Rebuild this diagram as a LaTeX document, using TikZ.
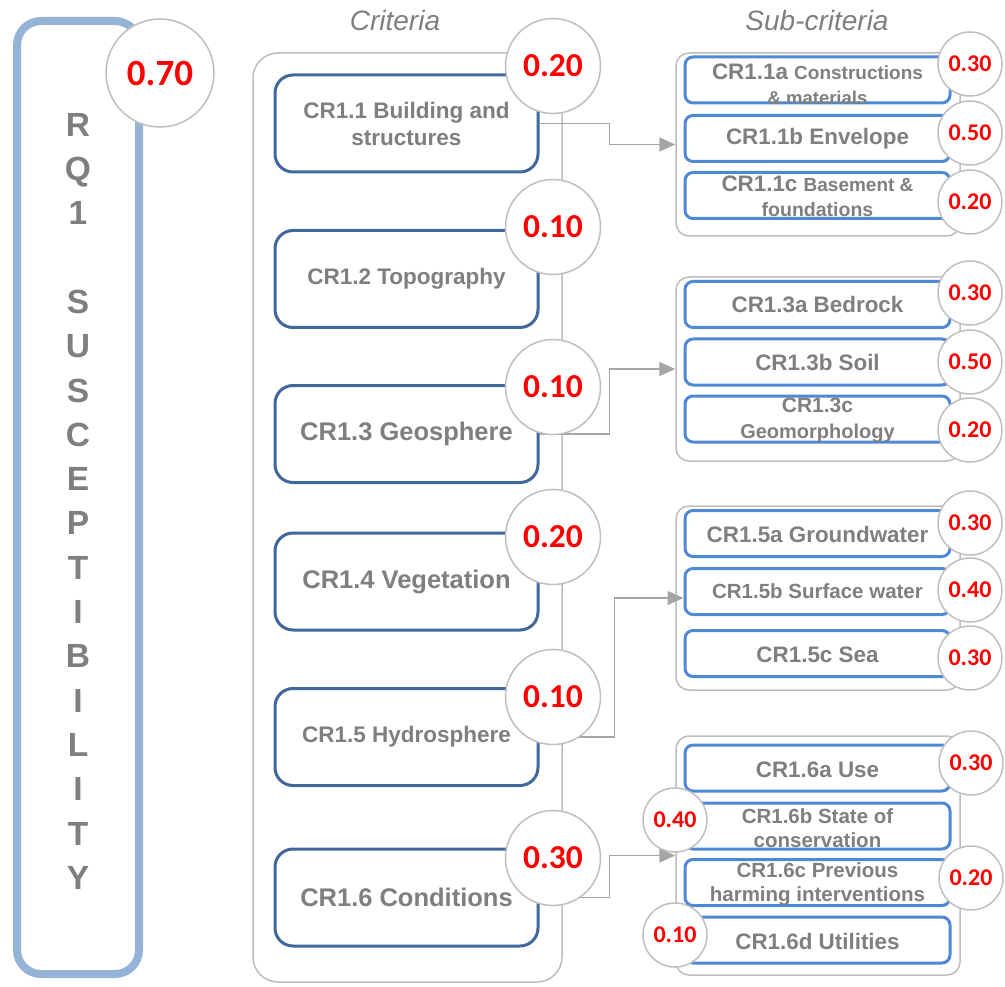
\documentclass[tikz,border=0pt]{standalone}
\usepackage{fontspec}
\setmainfont{Liberation Sans}
\newfontfamily\numfont{Carlito}
\usetikzlibrary{arrows.meta}

\definecolor{rqblue}{HTML}{95B3D7}
\definecolor{critblue}{HTML}{41689C}
\definecolor{subblue}{HTML}{4F88D6}
\definecolor{framegray}{HTML}{BDBDBD}
\definecolor{conngray}{HTML}{A5A5A5}
\definecolor{circgray}{HTML}{BFBFBF}
\definecolor{txtgray}{HTML}{7F7F7F}
\definecolor{wred}{HTML}{FF0000}

\newcommand\fsz[2]{\fontsize{#1}{#2}\selectfont}

\tikzset{
  rqbox/.style={draw=rqblue, line width=8pt, rounded corners=24pt, fill=white,
    minimum width=122pt, minimum height=953pt, inner sep=0pt},
  rqtext/.style={text=txtgray, font=\bfseries\fsz{33.5}{44.3}, align=center, inner sep=0pt},
  head/.style={text=txtgray, font=\itshape\fsz{28}{30}, inner sep=0pt},
  outerbox/.style={draw=framegray, line width=1.5pt, rounded corners=25pt},
  critbox/.style={draw=critblue, line width=3pt, rounded corners=18pt, fill=white,
    minimum width=263pt, minimum height=97pt, inner sep=0pt,
    text=txtgray, align=center, font=\bfseries\fsz{22.5}{27}},
  bigtxt/.style={font=\bfseries\fsz{25.5}{30}},
  groupbox/.style={draw=framegray, line width=1.5pt, rounded corners=13pt, fill=white,
    minimum width=284pt, inner sep=0pt},
  subbox/.style={draw=subblue, line width=3pt, rounded corners=8pt, fill=white,
    minimum width=265pt, minimum height=46pt, inner sep=0pt},
  subtext/.style={text=txtgray, align=center, inner sep=0pt, font=\bfseries\fsz{22.4}{25}},
  conn/.style={draw=conngray, line width=1.5pt, -{Triangle[length=16pt,width=14pt]}},
  wbig/.style={circle, draw=circgray, line width=1.5pt, fill=white, inner sep=0pt,
    minimum size=108pt, text=wred, font=\numfont\bfseries\fsz{37}{40}},
  wcrit/.style={circle, draw=circgray, line width=1.5pt, fill=white, inner sep=0pt,
    minimum size=95pt, text=wred, font=\numfont\bfseries\fsz{33.5}{36}},
  wsub/.style={circle, draw=circgray, line width=1.5pt, fill=white, inner sep=0pt,
    minimum size=64pt, text=wred, font=\numfont\bfseries\fsz{24}{26}},
}

\begin{document}
\begin{tikzpicture}[x=1pt,y=-1pt]
\useasboundingbox (0,0) rectangle (1005,987);

% research question column
\node[rqbox] (rq) at (78,497.5) {};
\node[rqtext, anchor=north] (rqt) at (78,113)
  {R\\Q\\1\\[44.3pt]S\\U\\S\\C\\E\\P\\T\\I\\B\\I\\L\\I\\T\\Y};
\node[wbig] (w0) at (160,73) {0.70};

% column headings
\node[head] (hcrit) at (395,20) {Criteria};
\node[head] (hsub) at (817,20) {Sub-criteria};

% criteria frame and boxes
\node[outerbox, minimum width=309pt, minimum height=929pt] (crit) at (407.5,517.5) {};
\node[critbox] (c11) at (406.5,123.5) {CR1.1 Building and\\structures};
\node[critbox] (c12) at (406.5,279) {CR1.2 Topography};
\node[critbox, bigtxt] (c13) at (406.5,434) {CR1.3 Geosphere};
\node[critbox, bigtxt] (c14) at (406.5,581.5) {CR1.4 Vegetation};
\node[critbox] (c15) at (406.5,737) {CR1.5 Hydrosphere};
\node[critbox, bigtxt] (c16) at (406.5,897.5) {CR1.6 Conditions};

% sub-criteria groups
\node[groupbox, minimum height=183pt] (g1) at (818,144.5) {};
\node[groupbox, minimum height=184pt] (g3) at (818,369) {};
\node[groupbox, minimum height=184pt] (g5) at (818,598) {};
\node[groupbox, minimum height=239pt] (g6) at (818,855.5) {};

% group CR1.1
\node[subbox] (s11a) at (817.5,80) {};
\node[subbox] (s11b) at (817.5,138.5) {};
\node[subbox] (s11c) at (817.5,195.5) {};
\node[subtext] (t11a) at (817.5,84.5) {CR1.1a {\fsz{19}{25}Constructions}\\{\fsz{18.5}{25}\& materials}};
\node[subtext] (t11b) at (817.5,139) {CR1.1b Envelope};
\node[subtext] (t11c) at (817.5,196.5) {CR1.1c {\fsz{19}{25}Basement \&}\\{\fsz{19.5}{25}foundations}};

% group CR1.3
\node[subbox] (s13a) at (817.5,304.5) {};
\node[subbox] (s13b) at (817.5,362) {};
\node[subbox] (s13c) at (817.5,419) {};
\node[subtext] (t13a) at (817.5,305) {CR1.3a Bedrock};
\node[subtext] (t13b) at (817.5,362.5) {CR1.3b Soil};
\node[subtext, font=\bfseries\fsz{21}{26}] (t13c) at (817.5,420) {CR1.3c\\{\fsz{20}{26}Geomorphology}};

% group CR1.5
\node[subbox] (s15a) at (817.5,533.5) {};
\node[subbox] (s15b) at (817.5,591.5) {};
\node[subbox] (s15c) at (817.5,653.5) {};
\node[subtext] (t15a) at (817.5,534) {CR1.5a Groundwater};
\node[subtext, font=\bfseries\fsz{20.5}{25}] (t15b) at (817.5,591.5) {CR1.5b Surface water};
\node[subtext] (t15c) at (817.5,655) {CR1.5c Sea};

% group CR1.6
\node[subbox] (s16a) at (817.5,768) {};
\node[subbox] (s16b) at (817.5,826) {};
\node[subbox] (s16c) at (817.5,882.5) {};
\node[subbox] (s16d) at (817.5,940) {};
\node[subtext] (t16a) at (817.5,770) {CR1.6a Use};
\node[subtext, font=\bfseries\fsz{20.5}{24}] (t16b) at (817.5,828) {CR1.6b State of\\conservation};
\node[subtext, font=\bfseries\fsz{20.5}{24}] (t16c) at (817.5,884) {CR1.6c Previous\\harming interventions};
\node[subtext] (t16d) at (817.5,941) {CR1.6d Utilities};

% connectors from criteria to their sub-criteria
\draw[conn] (c11.east) -- ++(70,0) |- (g1.west);
\draw[conn] (c13.east) -- ++(70,0) |- (g3.west);
\draw[conn] (c15.east) -- ++(75,0) |- (g5.west -| s15b.west);
\draw[conn] (c16.east) -- ++(70,0) |- (g6.west);

% criteria weights
\node[wcrit] (w11) at (553,66) {0.20};
\node[wcrit] (w12) at (553,227) {0.10};
\node[wcrit] (w13) at (553,387) {0.10};
\node[wcrit] (w14) at (553,537) {0.20};
\node[wcrit] (w15) at (553,697) {0.10};
\node[wcrit] (w16) at (553,858) {0.30};

% sub-criteria weights
\node[wsub] (w11a) at (970,64) {0.30};
\node[wsub] (w11b) at (970,133) {0.50};
\node[wsub] (w11c) at (970,202) {0.20};
\node[wsub] (w13a) at (970,293) {0.30};
\node[wsub] (w13b) at (970,362) {0.50};
\node[wsub] (w13c) at (970,430) {0.20};
\node[wsub] (w15a) at (970,523) {0.30};
\node[wsub] (w15b) at (970,590) {0.40};
\node[wsub] (w15c) at (970,658) {0.30};
\node[wsub] (w16a) at (971,763) {0.30};
\node[wsub] (w16b) at (675,820) {0.40};
\node[wsub] (w16c) at (971,878) {0.20};
\node[wsub] (w16d) at (675,935) {0.10};
\end{tikzpicture}
\end{document}
